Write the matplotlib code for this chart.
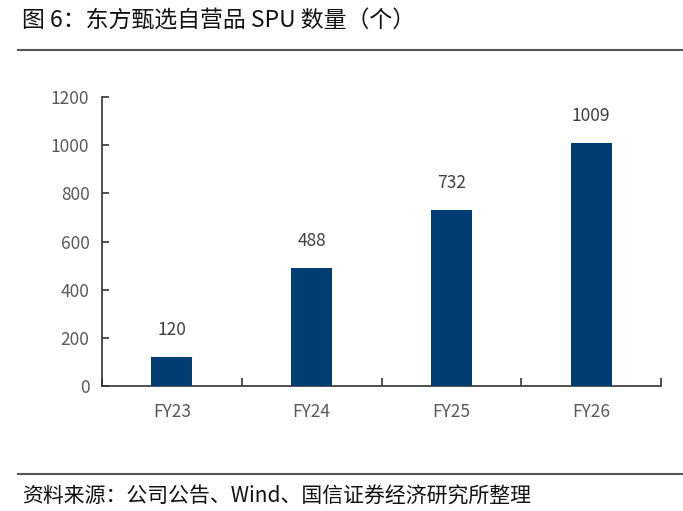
import matplotlib
matplotlib.use("Agg")
import matplotlib.pyplot as plt
from matplotlib.lines import Line2D

categories = ["FY23", "FY24", "FY25", "FY26"]
values = [120, 488, 732, 1009]
yticks = [0, 200, 400, 600, 800, 1000, 1200]
title = "图 6：东方甄选自营品 SPU 数量（个）"
source = "资料来源：公司公告、Wind、国信证券经济研究所整理"

plt.rcParams['font.family'] = ['Noto Sans CJK SC', 'DejaVu Sans']

W, H = 683, 511
fig = plt.figure(figsize=(W / 100, H / 100), dpi=100)
ax = fig.add_axes([102 / W, 1 - 386 / H, (661 - 102) / W, (386 - 97) / H])

bar_color = "#003d73"
x = list(range(len(categories)))
ax.bar(x, values, width=0.295, color=bar_color, zorder=3)
for xi, v in zip(x, values):
    ax.annotate(str(v), (xi, v), xytext=(0, 13), textcoords="offset points",
                ha="center", va="bottom", fontsize=12.5, color="#404040")

ax.set_xlim(-0.5, len(categories) - 0.5)
ax.set_ylim(0, 1200)
ax.set_yticks(yticks)
ax.set_yticklabels([str(t) for t in yticks], fontsize=12.5, color="#595959")
ax.set_xticks(x)
ax.set_xticklabels(categories, fontsize=12.5, color="#595959")
ax.tick_params(axis="x", length=0, pad=12)
ax.tick_params(axis="y", direction="in", length=5, width=1.2, color="#333333", pad=9)
ax.set_xticks([i - 0.5 for i in range(len(categories) + 1)], minor=True)
ax.tick_params(axis="x", which="minor", direction="in", length=6, width=1.2, color="#333333")
for s in ["top", "right"]:
    ax.spines[s].set_visible(False)
for s in ["left", "bottom"]:
    ax.spines[s].set_color("#333333")
    ax.spines[s].set_linewidth(1.2)

fig.text(22 / W, 1 - 21 / H, title, fontsize=16.5, ha="left", va="center", color="#111111")
fig.add_artist(Line2D([18 / W, 1.0], [1 - 50 / H, 1 - 50 / H], color="#555555", linewidth=1.5, transform=fig.transFigure))
fig.add_artist(Line2D([18 / W, 1.0], [1 - 474 / H, 1 - 474 / H], color="#555555", linewidth=1.5, transform=fig.transFigure))
fig.text(22 / W, 1 - 497 / H, source, fontsize=15, ha="left", va="center", color="#111111")

fig.savefig("out.png", dpi=100)
